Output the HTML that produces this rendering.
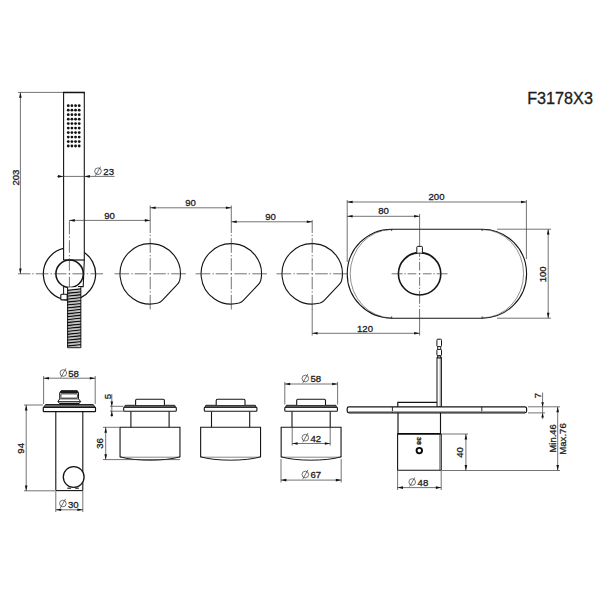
<!DOCTYPE html>
<html><head><meta charset="utf-8"><title>F3178X3</title>
<style>
html,body{margin:0;padding:0;background:#fff;}
body{width:600px;height:600px;overflow:hidden;}
svg{display:block;}
svg text{font-family:"Liberation Sans",sans-serif;fill:#1c1c1c;stroke:#1c1c1c;stroke-width:0.3px;}
</style></head><body>
<svg width="600" height="600" viewBox="0 0 600 600">
<rect width="600" height="600" fill="#fff"/>
<text x="592.9" y="103.9" font-size="16.2" text-anchor="end" fill="#111" stroke-width="0.15">F3178X3</text>
<path d="M63.6 260 L63.6 92.4 L84.3 92.4 L84.3 260" fill="none" stroke="#141414" stroke-width="1.1"/>
<line x1="63.1" y1="92.6" x2="84.8" y2="92.6" stroke="#141414" stroke-width="1.3" />
<circle cx="68.25" cy="105.70" r="1.4" fill="#111"/>
<circle cx="71.90" cy="105.70" r="1.4" fill="#111"/>
<circle cx="75.55" cy="105.70" r="1.4" fill="#111"/>
<circle cx="79.20" cy="105.70" r="1.4" fill="#111"/>
<circle cx="68.25" cy="110.18" r="1.4" fill="#111"/>
<circle cx="71.90" cy="110.18" r="1.4" fill="#111"/>
<circle cx="75.55" cy="110.18" r="1.4" fill="#111"/>
<circle cx="79.20" cy="110.18" r="1.4" fill="#111"/>
<circle cx="68.25" cy="114.66" r="1.4" fill="#111"/>
<circle cx="71.90" cy="114.66" r="1.4" fill="#111"/>
<circle cx="75.55" cy="114.66" r="1.4" fill="#111"/>
<circle cx="79.20" cy="114.66" r="1.4" fill="#111"/>
<circle cx="68.25" cy="119.14" r="1.4" fill="#111"/>
<circle cx="71.90" cy="119.14" r="1.4" fill="#111"/>
<circle cx="75.55" cy="119.14" r="1.4" fill="#111"/>
<circle cx="79.20" cy="119.14" r="1.4" fill="#111"/>
<circle cx="68.25" cy="123.62" r="1.4" fill="#111"/>
<circle cx="71.90" cy="123.62" r="1.4" fill="#111"/>
<circle cx="75.55" cy="123.62" r="1.4" fill="#111"/>
<circle cx="79.20" cy="123.62" r="1.4" fill="#111"/>
<circle cx="68.25" cy="128.10" r="1.4" fill="#111"/>
<circle cx="71.90" cy="128.10" r="1.4" fill="#111"/>
<circle cx="75.55" cy="128.10" r="1.4" fill="#111"/>
<circle cx="79.20" cy="128.10" r="1.4" fill="#111"/>
<circle cx="68.25" cy="132.58" r="1.4" fill="#111"/>
<circle cx="71.90" cy="132.58" r="1.4" fill="#111"/>
<circle cx="75.55" cy="132.58" r="1.4" fill="#111"/>
<circle cx="79.20" cy="132.58" r="1.4" fill="#111"/>
<circle cx="68.25" cy="137.06" r="1.4" fill="#111"/>
<circle cx="71.90" cy="137.06" r="1.4" fill="#111"/>
<circle cx="75.55" cy="137.06" r="1.4" fill="#111"/>
<circle cx="79.20" cy="137.06" r="1.4" fill="#111"/>
<circle cx="68.25" cy="141.54" r="1.4" fill="#111"/>
<circle cx="71.90" cy="141.54" r="1.4" fill="#111"/>
<circle cx="75.55" cy="141.54" r="1.4" fill="#111"/>
<circle cx="79.20" cy="141.54" r="1.4" fill="#111"/>
<circle cx="68.25" cy="146.02" r="1.4" fill="#111"/>
<circle cx="71.90" cy="146.02" r="1.4" fill="#111"/>
<circle cx="75.55" cy="146.02" r="1.4" fill="#111"/>
<circle cx="79.20" cy="146.02" r="1.4" fill="#111"/>
<path d="M63.6 248.45 A26.2 26.2 0 0 0 67.6 300.1" fill="none" stroke="#141414" stroke-width="1.25"/>
<path d="M84.3 252.45 A26.2 26.2 0 0 1 80.8 297.6" fill="none" stroke="#141414" stroke-width="1.25"/>
<circle cx="69.6" cy="273.8" r="13.7" fill="none" stroke="#141414" stroke-width="1.5"/>
<line x1="63.6" y1="260" x2="84.3" y2="260" stroke="#141414" stroke-width="1.2" />
<path d="M84.3 260 L83.2 286.6 L78 286.6" fill="none" stroke="#141414" stroke-width="1.1"/>
<line x1="63.6" y1="286.3" x2="63.6" y2="294.5" stroke="#141414" stroke-width="1.0" />
<rect x="60.8" y="294.3" width="6.4" height="5.6" rx="1" fill="#fff" stroke="#141414" stroke-width="1.1"/>
<rect x="67.6" y="287.3" width="13.2" height="60.4" fill="#fff" stroke="none"/>
<line x1="67.6" y1="287.3" x2="67.6" y2="347.7" stroke="#141414" stroke-width="1.1" />
<line x1="80.8" y1="287.3" x2="80.8" y2="347.7" stroke="#141414" stroke-width="1.1" />
<line x1="67.6" y1="347.7" x2="80.8" y2="347.7" stroke="#141414" stroke-width="1.0" />
<path d="M67.6 290.30 L80.8 288.90" stroke="#111" stroke-width="1.35" fill="none"/>
<path d="M67.6 291.70 L80.8 290.30" stroke="#666" stroke-width="0.5" fill="none"/>
<path d="M67.6 293.23 L80.8 291.83" stroke="#111" stroke-width="1.35" fill="none"/>
<path d="M67.6 294.63 L80.8 293.23" stroke="#666" stroke-width="0.5" fill="none"/>
<path d="M67.6 296.16 L80.8 294.76" stroke="#111" stroke-width="1.35" fill="none"/>
<path d="M67.6 297.56 L80.8 296.16" stroke="#666" stroke-width="0.5" fill="none"/>
<path d="M67.6 299.09 L80.8 297.69" stroke="#111" stroke-width="1.35" fill="none"/>
<path d="M67.6 300.49 L80.8 299.09" stroke="#666" stroke-width="0.5" fill="none"/>
<path d="M67.6 302.02 L80.8 300.62" stroke="#111" stroke-width="1.35" fill="none"/>
<path d="M67.6 303.42 L80.8 302.02" stroke="#666" stroke-width="0.5" fill="none"/>
<path d="M67.6 304.95 L80.8 303.55" stroke="#111" stroke-width="1.35" fill="none"/>
<path d="M67.6 306.35 L80.8 304.95" stroke="#666" stroke-width="0.5" fill="none"/>
<path d="M67.6 307.88 L80.8 306.48" stroke="#111" stroke-width="1.35" fill="none"/>
<path d="M67.6 309.28 L80.8 307.88" stroke="#666" stroke-width="0.5" fill="none"/>
<path d="M67.6 310.81 L80.8 309.41" stroke="#111" stroke-width="1.35" fill="none"/>
<path d="M67.6 312.21 L80.8 310.81" stroke="#666" stroke-width="0.5" fill="none"/>
<path d="M67.6 313.74 L80.8 312.34" stroke="#111" stroke-width="1.35" fill="none"/>
<path d="M67.6 315.14 L80.8 313.74" stroke="#666" stroke-width="0.5" fill="none"/>
<path d="M67.6 316.67 L80.8 315.27" stroke="#111" stroke-width="1.35" fill="none"/>
<path d="M67.6 318.07 L80.8 316.67" stroke="#666" stroke-width="0.5" fill="none"/>
<path d="M67.6 319.60 L80.8 318.20" stroke="#111" stroke-width="1.35" fill="none"/>
<path d="M67.6 321.00 L80.8 319.60" stroke="#666" stroke-width="0.5" fill="none"/>
<path d="M67.6 322.53 L80.8 321.13" stroke="#111" stroke-width="1.35" fill="none"/>
<path d="M67.6 323.93 L80.8 322.53" stroke="#666" stroke-width="0.5" fill="none"/>
<path d="M67.6 325.46 L80.8 324.06" stroke="#111" stroke-width="1.35" fill="none"/>
<path d="M67.6 326.86 L80.8 325.46" stroke="#666" stroke-width="0.5" fill="none"/>
<path d="M67.6 328.39 L80.8 326.99" stroke="#111" stroke-width="1.35" fill="none"/>
<path d="M67.6 329.79 L80.8 328.39" stroke="#666" stroke-width="0.5" fill="none"/>
<path d="M67.6 331.32 L80.8 329.92" stroke="#111" stroke-width="1.35" fill="none"/>
<path d="M67.6 332.72 L80.8 331.32" stroke="#666" stroke-width="0.5" fill="none"/>
<path d="M67.6 334.25 L80.8 332.85" stroke="#111" stroke-width="1.35" fill="none"/>
<path d="M67.6 335.65 L80.8 334.25" stroke="#666" stroke-width="0.5" fill="none"/>
<path d="M67.6 337.18 L80.8 335.78" stroke="#111" stroke-width="1.35" fill="none"/>
<path d="M67.6 338.58 L80.8 337.18" stroke="#666" stroke-width="0.5" fill="none"/>
<path d="M67.6 340.11 L80.8 338.71" stroke="#111" stroke-width="1.35" fill="none"/>
<path d="M67.6 341.51 L80.8 340.11" stroke="#666" stroke-width="0.5" fill="none"/>
<path d="M67.6 343.04 L80.8 341.64" stroke="#111" stroke-width="1.35" fill="none"/>
<path d="M67.6 344.44 L80.8 343.04" stroke="#666" stroke-width="0.5" fill="none"/>
<path d="M67.6 345.97 L80.8 344.57" stroke="#111" stroke-width="1.35" fill="none"/>
<path d="M67.6 347.37 L80.8 345.97" stroke="#666" stroke-width="0.5" fill="none"/>
<path d="M32.20 273.8 L33.60 273.8 M35.80 273.8 L48.40 273.8 M50.60 273.8 L52.00 273.8 M53.80 273.8 L66.40 273.8 M68.70 273.8 L70.10 273.8 M72.40 273.8 L85.00 273.8 M86.80 273.8 L88.20 273.8 M90.40 273.8 L103.00 273.8" stroke="#383838" stroke-width="0.7" fill="none"/>
<path d="M69.4 220.40 L69.4 234.40 M69.4 236.40 L69.4 237.80 M69.4 240.20 L69.4 252.80 M69.4 255.00 L69.4 256.40 M69.4 258.20 L69.4 270.80 M69.4 273.10 L69.4 274.50 M69.4 276.80 L69.4 287.20" stroke="#383838" stroke-width="0.7" fill="none"/>
<line x1="18" y1="92.4" x2="63" y2="92.4" stroke="#383838" stroke-width="0.7" />
<line x1="18" y1="273.8" x2="30.4" y2="273.8" stroke="#383838" stroke-width="0.7" />
<line x1="20.4" y1="92.4" x2="20.4" y2="273.8" stroke="#383838" stroke-width="0.7" />
<polygon points="20.40,92.40 19.10,97.80 21.70,97.80" fill="#111"/>
<polygon points="20.40,273.80 19.10,268.40 21.70,268.40" fill="#111"/>
<text x="18.9" y="177.6" font-size="9.6" text-anchor="middle" transform="rotate(-90 18.9 177.6)" >203</text>
<line x1="57" y1="176.4" x2="114.5" y2="176.4" stroke="#383838" stroke-width="0.7" />
<polygon points="63.40,176.40 58.00,175.10 58.00,177.70" fill="#111"/>
<polygon points="84.50,176.40 89.90,175.10 89.90,177.70" fill="#111"/>
<g stroke="#383838" stroke-width="0.7" fill="none"><circle cx="98" cy="171.2" r="3.3"/><line x1="95.4" y1="175.79999999999998" x2="100.6" y2="166.6"/></g>
<text x="103.3" y="175" font-size="9.6" text-anchor="start" >23</text>
<line x1="69.4" y1="220.4" x2="150.2" y2="220.4" stroke="#383838" stroke-width="0.7" />
<polygon points="69.40,220.40 74.80,219.10 74.80,221.70" fill="#111"/>
<polygon points="150.20,220.40 144.80,219.10 144.80,221.70" fill="#111"/>
<text x="109.5" y="218.8" font-size="9.6" text-anchor="middle" >90</text>
<line x1="150.2" y1="205.5" x2="150.2" y2="233" stroke="#383838" stroke-width="0.7" />
<line x1="150.2" y1="207.8" x2="231.3" y2="207.8" stroke="#383838" stroke-width="0.7" />
<polygon points="150.20,207.80 155.60,206.50 155.60,209.10" fill="#111"/>
<polygon points="231.30,207.80 225.90,206.50 225.90,209.10" fill="#111"/>
<text x="190.5" y="206.2" font-size="9.6" text-anchor="middle" >90</text>
<line x1="231.3" y1="205.5" x2="231.3" y2="233" stroke="#383838" stroke-width="0.7" />
<line x1="231.3" y1="221.8" x2="312.2" y2="221.8" stroke="#383838" stroke-width="0.7" />
<polygon points="231.30,221.80 236.70,220.50 236.70,223.10" fill="#111"/>
<polygon points="312.20,221.80 306.80,220.50 306.80,223.10" fill="#111"/>
<text x="270.5" y="220.2" font-size="9.6" text-anchor="middle" >90</text>
<path d="M158.02 302.97 A30.2 30.2 0 1 1 179.74 280.08 Q179.08 282.63 177.36 284.44 L162.25 300.37 Q160.53 302.18 158.02 302.97Z" fill="none" stroke="#141414" stroke-width="1.1"/>
<path d="M114.50 273.8 L129.20 273.8 M131.40 273.8 L132.80 273.8 M134.60 273.8 L147.20 273.8 M149.50 273.8 L150.90 273.8 M153.20 273.8 L165.80 273.8 M167.60 273.8 L169.00 273.8 M171.20 273.8 L185.90 273.8" stroke="#383838" stroke-width="0.7" fill="none"/>
<path d="M239.12 302.97 A30.2 30.2 0 1 1 260.84 280.08 Q260.18 282.63 258.46 284.44 L243.35 300.37 Q241.63 302.18 239.12 302.97Z" fill="none" stroke="#141414" stroke-width="1.1"/>
<path d="M195.60 273.8 L210.30 273.8 M212.50 273.8 L213.90 273.8 M215.70 273.8 L228.30 273.8 M230.60 273.8 L232.00 273.8 M234.30 273.8 L246.90 273.8 M248.70 273.8 L250.10 273.8 M252.30 273.8 L267.00 273.8" stroke="#383838" stroke-width="0.7" fill="none"/>
<path d="M320.02 302.97 A30.2 30.2 0 1 1 341.74 280.08 Q341.08 282.63 339.36 284.44 L324.25 300.37 Q322.53 302.18 320.02 302.97Z" fill="none" stroke="#141414" stroke-width="1.1"/>
<path d="M276.50 273.8 L291.20 273.8 M293.40 273.8 L294.80 273.8 M296.60 273.8 L309.20 273.8 M311.50 273.8 L312.90 273.8 M315.20 273.8 L327.80 273.8 M329.60 273.8 L331.00 273.8 M333.20 273.8 L347.90 273.8" stroke="#383838" stroke-width="0.7" fill="none"/>
<path d="M150.2 234.80 L150.2 236.20 M150.2 238.10 L150.2 252.80 M150.2 255.00 L150.2 256.40 M150.2 258.20 L150.2 270.80 M150.2 273.10 L150.2 274.50 M150.2 276.80 L150.2 289.40 M150.2 291.20 L150.2 292.60 M150.2 294.80 L150.2 309.50" stroke="#383838" stroke-width="0.7" fill="none"/>
<path d="M231.3 234.80 L231.3 236.20 M231.3 238.10 L231.3 252.80 M231.3 255.00 L231.3 256.40 M231.3 258.20 L231.3 270.80 M231.3 273.10 L231.3 274.50 M231.3 276.80 L231.3 289.40 M231.3 291.20 L231.3 292.60 M231.3 294.80 L231.3 309.50" stroke="#383838" stroke-width="0.7" fill="none"/>
<path d="M312.2 234.80 L312.2 236.20 M312.2 238.10 L312.2 252.80 M312.2 255.00 L312.2 256.40 M312.2 258.20 L312.2 270.80 M312.2 273.10 L312.2 274.50 M312.2 276.80 L312.2 289.40 M312.2 291.20 L312.2 292.60 M312.2 294.80 L312.2 309.50" stroke="#383838" stroke-width="0.7" fill="none"/>
<line x1="312.2" y1="220" x2="312.2" y2="233" stroke="#383838" stroke-width="0.7" />
<line x1="312.2" y1="309" x2="312.2" y2="335.5" stroke="#383838" stroke-width="0.7" />
<rect x="347.2" y="229.2" width="179.40000000000003" height="89.0" rx="44.5" fill="none" stroke="#141414" stroke-width="1.1"/>
<path d="M391.7 229.5 A41.5 44.2 0 0 0 391.7 317.9" fill="none" stroke="#444" stroke-width="0.6"/>
<path d="M482.1 229.5 A41.5 44.2 0 0 1 482.1 317.9" fill="none" stroke="#444" stroke-width="0.6"/>
<line x1="391.7" y1="229.0" x2="391.7" y2="231.0" stroke="#141414" stroke-width="0.8" />
<line x1="391.7" y1="318.4" x2="391.7" y2="316.4" stroke="#141414" stroke-width="0.8" />
<line x1="482.1" y1="229.0" x2="482.1" y2="231.0" stroke="#141414" stroke-width="0.8" />
<line x1="482.1" y1="318.4" x2="482.1" y2="316.4" stroke="#141414" stroke-width="0.8" />
<circle cx="419.6" cy="273.8" r="21.2" fill="none" stroke="#141414" stroke-width="1.6"/>
<path d="M416.8 252.7 L416.8 247.2 Q416.8 246.4 417.6 246.4 L421.6 246.4 Q422.4 246.4 422.4 247.2 L422.4 252.7" fill="#fff" stroke="#141414" stroke-width="1.0"/>
<path d="M391.60 273.8 L402.60 273.8 M404.40 273.8 L405.80 273.8 M407.60 273.8 L416.30 273.8 M418.90 273.8 L420.30 273.8 M422.90 273.8 L431.60 273.8 M433.40 273.8 L434.80 273.8 M436.60 273.8 L447.60 273.8" stroke="#383838" stroke-width="0.7" fill="none"/>
<path d="M419.6 252.80 L419.6 256.80 M419.6 258.60 L419.6 260.00 M419.6 261.80 L419.6 270.50 M419.6 273.10 L419.6 274.50 M419.6 277.10 L419.6 285.80 M419.6 287.60 L419.6 289.00 M419.6 290.80 L419.6 303.80 M419.6 305.60 L419.6 307.00" stroke="#383838" stroke-width="0.7" fill="none"/>
<line x1="419.6" y1="214" x2="419.6" y2="246" stroke="#383838" stroke-width="0.7" />
<line x1="419.6" y1="308.8" x2="419.6" y2="335.5" stroke="#383838" stroke-width="0.7" />
<line x1="347.2" y1="200" x2="347.2" y2="262" stroke="#383838" stroke-width="0.7" />
<line x1="526.4" y1="200" x2="526.4" y2="259" stroke="#383838" stroke-width="0.7" />
<line x1="347.2" y1="202" x2="526.4" y2="202" stroke="#383838" stroke-width="0.7" />
<polygon points="347.20,202.00 352.60,200.70 352.60,203.30" fill="#111"/>
<polygon points="526.40,202.00 521.00,200.70 521.00,203.30" fill="#111"/>
<text x="436.5" y="199.8" font-size="9.6" text-anchor="middle" >200</text>
<line x1="347.2" y1="216.3" x2="419.6" y2="216.3" stroke="#383838" stroke-width="0.7" />
<polygon points="347.20,216.30 352.60,215.00 352.60,217.60" fill="#111"/>
<polygon points="419.60,216.30 414.20,215.00 414.20,217.60" fill="#111"/>
<text x="383.5" y="214.3" font-size="9.6" text-anchor="middle" >80</text>
<line x1="312.2" y1="333.3" x2="419.6" y2="333.3" stroke="#383838" stroke-width="0.7" />
<polygon points="312.20,333.30 317.60,332.00 317.60,334.60" fill="#111"/>
<polygon points="419.60,333.30 414.20,332.00 414.20,334.60" fill="#111"/>
<text x="365" y="331.5" font-size="9.6" text-anchor="middle" >120</text>
<line x1="497" y1="229.2" x2="551" y2="229.2" stroke="#383838" stroke-width="0.7" />
<line x1="497" y1="318.2" x2="551" y2="318.2" stroke="#383838" stroke-width="0.7" />
<line x1="548.2" y1="229.2" x2="548.2" y2="318.2" stroke="#383838" stroke-width="0.7" />
<polygon points="548.20,229.20 546.90,234.60 549.50,234.60" fill="#111"/>
<polygon points="548.20,318.20 546.90,312.80 549.50,312.80" fill="#111"/>
<text x="546" y="274.3" font-size="9.6" text-anchor="middle" transform="rotate(-90 546 274.3)" >100</text>
<rect x="43.3" y="407.3" width="52.2" height="4.3" rx="0.6" fill="#fff" stroke="#141414" stroke-width="1.2"/>
<path d="M43.6 407.3 L45.6 404.5 H93.2 L95.2 407.3Z" fill="#666" stroke="#141414" stroke-width="0.9"/>
<path d="M59.7 403.6 L57.9 401.6 L59.7 398.8 L59.7 393 L61 390.8 L77.4 390.8 L78.5 393 L78.5 398.8 L80.6 401.6 L79 403.6Z" fill="#fff" stroke="#141414" stroke-width="1.0"/>
<path d="M60.4 392.9 L61.3 390.9 L77.1 390.9 L77.9 392.9Z" fill="#222" stroke="#111" stroke-width="0.8"/>
<rect x="60.9" y="393.9" width="16.5" height="4.2" rx="0.8" fill="none" stroke="#141414" stroke-width="0.8"/>
<line x1="59.7" y1="398.9" x2="78.5" y2="398.9" stroke="#141414" stroke-width="0.8" />
<line x1="58" y1="401.6" x2="80.5" y2="401.6" stroke="#141414" stroke-width="0.9" />
<line x1="59.5" y1="403.4" x2="79.2" y2="403.4" stroke="#141414" stroke-width="1.3" />
<line x1="55.8" y1="411.3" x2="55.8" y2="490.6" stroke="#141414" stroke-width="1.1" />
<line x1="82.8" y1="411.3" x2="82.8" y2="490.6" stroke="#141414" stroke-width="1.1" />
<line x1="55.8" y1="490.6" x2="82.8" y2="490.6" stroke="#141414" stroke-width="1.1" />
<circle cx="73.7" cy="477" r="10.4" fill="#fff" stroke="#141414" stroke-width="1.3"/>
<line x1="67.3" y1="488.2" x2="71" y2="488.2" stroke="#141414" stroke-width="1.1" />
<line x1="75.2" y1="488.2" x2="78.8" y2="488.2" stroke="#141414" stroke-width="1.1" />
<line x1="43.6" y1="376" x2="43.6" y2="404" stroke="#383838" stroke-width="0.7" />
<line x1="95.2" y1="376" x2="95.2" y2="404" stroke="#383838" stroke-width="0.7" />
<line x1="43.6" y1="378.2" x2="95.2" y2="378.2" stroke="#383838" stroke-width="0.7" />
<polygon points="43.60,378.20 49.00,376.90 49.00,379.50" fill="#111"/>
<polygon points="95.20,378.20 89.80,376.90 89.80,379.50" fill="#111"/>
<g stroke="#383838" stroke-width="0.7" fill="none"><circle cx="63.3" cy="373" r="3.3"/><line x1="60.699999999999996" y1="377.6" x2="65.89999999999999" y2="368.4"/></g>
<text x="68.2" y="376.8" font-size="9.6" text-anchor="start" >58</text>
<line x1="24" y1="405" x2="43" y2="405" stroke="#383838" stroke-width="0.7" />
<line x1="24" y1="490.8" x2="55" y2="490.8" stroke="#383838" stroke-width="0.7" />
<line x1="26.2" y1="405" x2="26.2" y2="490.8" stroke="#383838" stroke-width="0.7" />
<polygon points="26.20,405.00 24.90,410.40 27.50,410.40" fill="#111"/>
<polygon points="26.20,490.80 24.90,485.40 27.50,485.40" fill="#111"/>
<text x="24.3" y="448.3" font-size="9.6" text-anchor="middle" transform="rotate(-90 24.3 448.3)" >94</text>
<line x1="55.8" y1="491" x2="55.8" y2="512" stroke="#383838" stroke-width="0.7" />
<line x1="82.8" y1="491" x2="82.8" y2="512" stroke="#383838" stroke-width="0.7" />
<line x1="55.8" y1="509.8" x2="82.8" y2="509.8" stroke="#383838" stroke-width="0.7" />
<polygon points="55.80,509.80 61.20,508.50 61.20,511.10" fill="#111"/>
<polygon points="82.80,509.80 77.40,508.50 77.40,511.10" fill="#111"/>
<g stroke="#383838" stroke-width="0.7" fill="none"><circle cx="62.9" cy="503.5" r="3.3"/><line x1="60.3" y1="508.1" x2="65.5" y2="498.9"/></g>
<text x="68" y="507.5" font-size="9.6" text-anchor="start" >30</text>
<path d="M120.05 456.6 C134 461.3 166 461.3 179.95 456.6 L179.95 427.2 H120.05Z" fill="#fff" stroke="none"/>
<path d="M120.05 457.2 H179.95" fill="none" stroke="#555" stroke-width="0.7"/>
<path d="M120.05 457.3 V427.2 H179.95 V457.3" fill="none" stroke="#141414" stroke-width="1.1"/>
<path d="M120.05 456.8 C134 461.3 166 461.3 179.95 456.8" fill="none" stroke="#1a1a1a" stroke-width="1.0"/>
<line x1="130.9" y1="411.3" x2="130.9" y2="427.2" stroke="#141414" stroke-width="1.1" />
<line x1="169.1" y1="411.3" x2="169.1" y2="427.2" stroke="#141414" stroke-width="1.1" />
<rect x="123.7" y="407.2" width="52.6" height="4.1" rx="0.8" fill="#fff" stroke="#141414" stroke-width="1.1"/>
<path d="M124.6 407.2 L125.2 405.3 H174.8 L175.4 407.2Z" fill="#777" stroke="#141414" stroke-width="0.9"/>
<path d="M135.6 405 L135.6 400.4 Q135.6 399.2 136.8 399.2 L163.2 399.2 Q164.4 399.2 164.4 400.4 L164.4 405" fill="#fff" stroke="#141414" stroke-width="1.1"/>
<path d="M200.65 456.6 C214.6 461.3 246.6 461.3 260.55 456.6 L260.55 427.2 H200.65Z" fill="#fff" stroke="none"/>
<path d="M200.65 457.2 H260.55" fill="none" stroke="#555" stroke-width="0.7"/>
<path d="M200.65 457.3 V427.2 H260.55 V457.3" fill="none" stroke="#141414" stroke-width="1.1"/>
<path d="M200.65 456.8 C214.6 461.3 246.6 461.3 260.55 456.8" fill="none" stroke="#1a1a1a" stroke-width="1.0"/>
<line x1="211.5" y1="411.3" x2="211.5" y2="427.2" stroke="#141414" stroke-width="1.1" />
<line x1="249.7" y1="411.3" x2="249.7" y2="427.2" stroke="#141414" stroke-width="1.1" />
<rect x="204.29999999999998" y="407.2" width="52.6" height="4.1" rx="0.8" fill="#fff" stroke="#141414" stroke-width="1.1"/>
<path d="M205.2 407.2 L205.79999999999998 405.3 H255.4 L256.0 407.2Z" fill="#777" stroke="#141414" stroke-width="0.9"/>
<path d="M216.2 405 L216.2 400.4 Q216.2 399.2 217.4 399.2 L243.79999999999998 399.2 Q245.0 399.2 245.0 400.4 L245.0 405" fill="#fff" stroke="#141414" stroke-width="1.1"/>
<path d="M281.15000000000003 456.6 C295.1 461.3 327.1 461.3 341.05 456.6 L341.05 427.2 H281.15000000000003Z" fill="#fff" stroke="none"/>
<path d="M281.15000000000003 457.2 H341.05" fill="none" stroke="#555" stroke-width="0.7"/>
<path d="M281.15000000000003 457.3 V427.2 H341.05 V457.3" fill="none" stroke="#141414" stroke-width="1.1"/>
<path d="M281.15000000000003 456.8 C295.1 461.3 327.1 461.3 341.05 456.8" fill="none" stroke="#1a1a1a" stroke-width="1.0"/>
<line x1="292.0" y1="411.3" x2="292.0" y2="427.2" stroke="#141414" stroke-width="1.1" />
<line x1="330.20000000000005" y1="411.3" x2="330.20000000000005" y2="427.2" stroke="#141414" stroke-width="1.1" />
<rect x="284.8" y="407.2" width="52.6" height="4.1" rx="0.8" fill="#fff" stroke="#141414" stroke-width="1.1"/>
<path d="M285.70000000000005 407.2 L286.3 405.3 H335.90000000000003 L336.5 407.2Z" fill="#777" stroke="#141414" stroke-width="0.9"/>
<path d="M296.70000000000005 405 L296.70000000000005 400.4 Q296.70000000000005 399.2 297.90000000000003 399.2 L324.3 399.2 Q325.5 399.2 325.5 400.4 L325.5 405" fill="#fff" stroke="#141414" stroke-width="1.1"/>
<line x1="103" y1="427.3" x2="119.5" y2="427.3" stroke="#383838" stroke-width="0.7" />
<line x1="103" y1="459.6" x2="180" y2="459.6" stroke="#383838" stroke-width="0.7" />
<line x1="105.7" y1="427.3" x2="105.7" y2="459.6" stroke="#383838" stroke-width="0.7" />
<polygon points="105.70,427.30 104.40,432.70 107.00,432.70" fill="#111"/>
<polygon points="105.70,459.60 104.40,454.20 107.00,454.20" fill="#111"/>
<text x="103.4" y="443.5" font-size="9.6" text-anchor="middle" transform="rotate(-90 103.4 443.5)" >36</text>
<line x1="110" y1="406.3" x2="123.5" y2="406.3" stroke="#383838" stroke-width="0.7" />
<line x1="110" y1="411.2" x2="123.5" y2="411.2" stroke="#383838" stroke-width="0.7" />
<line x1="111.8" y1="394" x2="111.8" y2="417" stroke="#383838" stroke-width="0.7" />
<polygon points="111.80,406.30 110.50,401.50 113.10,401.50" fill="#111"/>
<polygon points="111.80,411.20 110.50,416.00 113.10,416.00" fill="#111"/>
<text x="110.6" y="396.6" font-size="9.6" text-anchor="middle" transform="rotate(-90 110.6 396.6)" >5</text>
<line x1="284.8" y1="382" x2="284.8" y2="404.5" stroke="#383838" stroke-width="0.7" />
<line x1="337.6" y1="382" x2="337.6" y2="404.5" stroke="#383838" stroke-width="0.7" />
<line x1="284.8" y1="384" x2="337.6" y2="384" stroke="#383838" stroke-width="0.7" />
<polygon points="284.80,384.00 290.20,382.70 290.20,385.30" fill="#111"/>
<polygon points="337.60,384.00 332.20,382.70 332.20,385.30" fill="#111"/>
<g stroke="#383838" stroke-width="0.7" fill="none"><circle cx="305.3" cy="378.5" r="3.3"/><line x1="302.7" y1="383.1" x2="307.90000000000003" y2="373.9"/></g>
<text x="310.5" y="382.3" font-size="9.6" text-anchor="start" >58</text>
<line x1="292.2" y1="427" x2="292.2" y2="445.5" stroke="#383838" stroke-width="0.7" />
<line x1="330.2" y1="427" x2="330.2" y2="445.5" stroke="#383838" stroke-width="0.7" />
<line x1="292.2" y1="443.5" x2="330.2" y2="443.5" stroke="#383838" stroke-width="0.7" />
<polygon points="292.20,443.50 297.60,442.20 297.60,444.80" fill="#111"/>
<polygon points="330.20,443.50 324.80,442.20 324.80,444.80" fill="#111"/>
<g stroke="#383838" stroke-width="0.7" fill="none"><circle cx="305.3" cy="437.7" r="3.3"/><line x1="302.7" y1="442.3" x2="307.90000000000003" y2="433.09999999999997"/></g>
<text x="310.5" y="441.5" font-size="9.6" text-anchor="start" >42</text>
<line x1="281" y1="459" x2="281" y2="482.5" stroke="#383838" stroke-width="0.7" />
<line x1="341.2" y1="459" x2="341.2" y2="482.5" stroke="#383838" stroke-width="0.7" />
<line x1="281" y1="480.1" x2="341.2" y2="480.1" stroke="#383838" stroke-width="0.7" />
<polygon points="281.00,480.10 286.40,478.80 286.40,481.40" fill="#111"/>
<polygon points="341.20,480.10 335.80,478.80 335.80,481.40" fill="#111"/>
<g stroke="#383838" stroke-width="0.7" fill="none"><circle cx="305.3" cy="474.5" r="3.3"/><line x1="302.7" y1="479.1" x2="307.90000000000003" y2="469.9"/></g>
<text x="310.5" y="478.3" font-size="9.6" text-anchor="start" >67</text>
<rect x="437" y="357.6" width="4.4" height="49.4" fill="#fff" stroke="#141414" stroke-width="1.0"/>
<line x1="440.2" y1="358" x2="440.2" y2="407" stroke="#141414" stroke-width="0.5" />
<rect x="437.7" y="345" width="3" height="13" fill="#fff" stroke="#141414" stroke-width="0.9"/>
<rect x="436.9" y="339.2" width="4.6" height="7.4" rx="1" fill="#fff" stroke="#141414" stroke-width="1.0"/>
<rect x="436.9" y="349.4" width="4.6" height="6.2" rx="0.8" fill="#fff" stroke="#141414" stroke-width="1.0"/>
<line x1="437.2" y1="357" x2="441.2" y2="357" stroke="#141414" stroke-width="0.8" />
<path d="M397.8 407 L397.8 402.4 L436.9 402.4" fill="none" stroke="#141414" stroke-width="1.2"/>
<rect x="347.2" y="406.8" width="179.4" height="6.1" rx="1.8" fill="#fff" stroke="#141414" stroke-width="1.2"/>
<line x1="392.4" y1="407" x2="392.4" y2="412.6" stroke="#141414" stroke-width="0.9" />
<line x1="481.8" y1="407" x2="481.8" y2="412.6" stroke="#141414" stroke-width="0.9" />
<line x1="348.5" y1="411.5" x2="525.3" y2="411.5" stroke="#999" stroke-width="0.9" />
<line x1="398" y1="412.7" x2="398" y2="434" stroke="#141414" stroke-width="1.15" />
<line x1="440.5" y1="412.7" x2="440.5" y2="434" stroke="#141414" stroke-width="1.15" />
<line x1="397.4" y1="433.8" x2="441.3" y2="433.8" stroke="#0a0a0a" stroke-width="1.8" />
<path d="M397.6 434 L397.6 470.3 L441.2 470.3 L441.2 434" fill="none" stroke="#141414" stroke-width="1.1"/>
<line x1="439.8" y1="435" x2="439.8" y2="470" stroke="#141414" stroke-width="0.6" />
<circle cx="419.3" cy="450.6" r="2.75" fill="none" stroke="#0a0a0a" stroke-width="1.9"/>
<text x="417" y="440.9" font-size="5.8" text-anchor="middle" transform="rotate(90 417 440.9)" font-weight="bold" fill="#000" stroke="#000" stroke-width="0.3" textLength="7.6" lengthAdjust="spacingAndGlyphs">38</text>
<line x1="442" y1="434" x2="468" y2="434" stroke="#383838" stroke-width="0.7" />
<line x1="442" y1="470.5" x2="560" y2="470.5" stroke="#383838" stroke-width="0.7" />
<line x1="465.9" y1="434" x2="465.9" y2="470.5" stroke="#383838" stroke-width="0.7" />
<polygon points="465.90,434.00 464.60,439.40 467.20,439.40" fill="#111"/>
<polygon points="465.90,470.50 464.60,465.10 467.20,465.10" fill="#111"/>
<text x="463.4" y="452.5" font-size="9.6" text-anchor="middle" transform="rotate(-90 463.4 452.5)" >40</text>
<line x1="397.6" y1="471" x2="397.6" y2="490" stroke="#383838" stroke-width="0.7" />
<line x1="441.2" y1="471" x2="441.2" y2="490" stroke="#383838" stroke-width="0.7" />
<line x1="397.6" y1="487.6" x2="441.2" y2="487.6" stroke="#383838" stroke-width="0.7" />
<polygon points="397.60,487.60 403.00,486.30 403.00,488.90" fill="#111"/>
<polygon points="441.20,487.60 435.80,486.30 435.80,488.90" fill="#111"/>
<g stroke="#383838" stroke-width="0.7" fill="none"><circle cx="412.2" cy="482" r="3.3"/><line x1="409.59999999999997" y1="486.6" x2="414.8" y2="477.4"/></g>
<text x="417.6" y="485.8" font-size="9.6" text-anchor="start" >48</text>
<line x1="528" y1="406.8" x2="560" y2="406.8" stroke="#383838" stroke-width="0.7" />
<line x1="528" y1="412.9" x2="545" y2="412.9" stroke="#383838" stroke-width="0.7" />
<line x1="542.6" y1="392.5" x2="542.6" y2="419" stroke="#383838" stroke-width="0.7" />
<polygon points="542.60,406.80 541.30,402.20 543.90,402.20" fill="#111"/>
<polygon points="542.60,412.90 541.30,417.50 543.90,417.50" fill="#111"/>
<text x="540.8" y="395.5" font-size="9.6" text-anchor="middle" transform="rotate(-90 540.8 395.5)" >7</text>
<line x1="557.7" y1="406.8" x2="557.7" y2="470.5" stroke="#383838" stroke-width="0.7" />
<polygon points="557.70,406.80 556.40,412.20 559.00,412.20" fill="#111"/>
<polygon points="557.70,470.50 556.40,465.10 559.00,465.10" fill="#111"/>
<text x="555.7" y="438.4" font-size="9.4" text-anchor="middle" transform="rotate(-90 555.7 438.4)" >Min.46</text>
<text x="565.9" y="439" font-size="9.6" text-anchor="middle" transform="rotate(-90 565.9 439)" >Max.76</text>
</svg>
</body></html>
